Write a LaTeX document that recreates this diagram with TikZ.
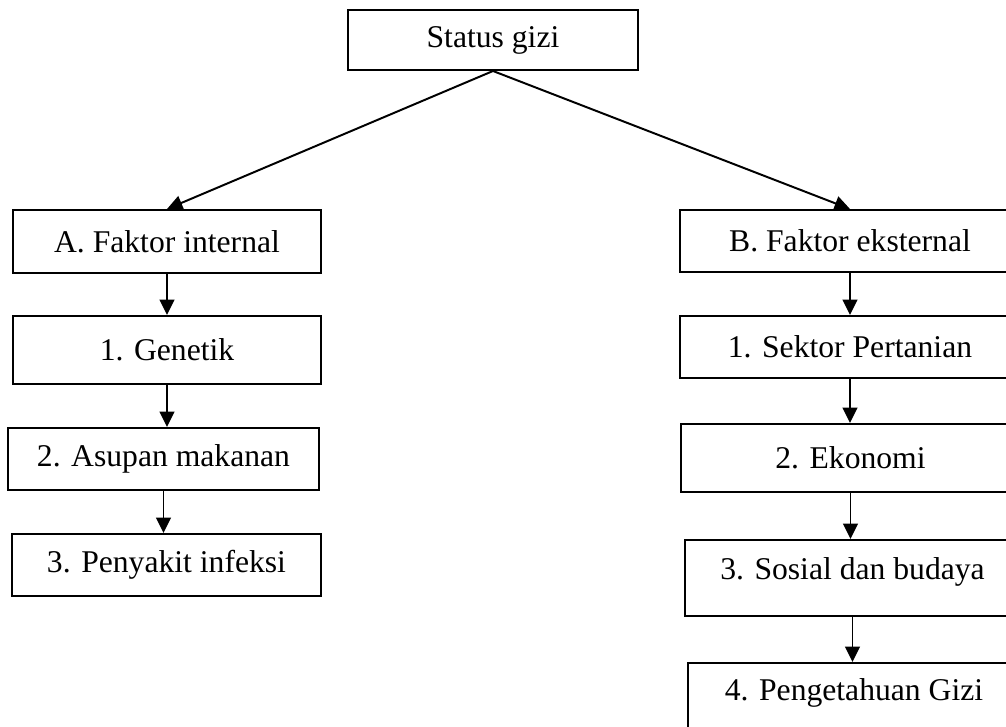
\documentclass[tikz,border=0pt]{standalone}
\usepackage{fontspec}
\setmainfont{Liberation Serif}
\usetikzlibrary{arrows.meta}

\tikzset{
  box/.style={draw, line width=1.4pt, inner sep=0pt, font=\fontsize{22.5}{27}\selectfont},
  arr/.style={-{Triangle[length=11pt,width=10.5pt]}, line width=1.4pt}
}

\begin{document}
\begin{tikzpicture}[x=0.025cm, y=-0.025cm]
        \clip (0,0) rectangle (1006,726);
        \node[box, minimum width=7.25cm, minimum height=1.5cm] (status) at (493,40) {Status gizi};
        \node[box, minimum width=7.7cm, minimum height=1.575cm] (internal) at (167,241.5) {A. Faktor internal};
        \node[box, minimum width=8.5cm, minimum height=1.55cm] (eksternal) at (850,241) {B. Faktor eksternal};
        \node[box, minimum width=7.7cm, minimum height=1.7cm] (genetik) at (167,350) {1. Genetik};
        \node[box, minimum width=7.775cm, minimum height=1.55cm] (asupan) at (163.5,459) {2. Asupan makanan};
        \node[box, minimum width=7.725cm, minimum height=1.55cm] (penyakit) at (166.5,565) {3. Penyakit infeksi};
        \node[box, minimum width=8.5cm, minimum height=1.55cm] (pertanian) at (850,347) {1. Sektor Pertanian};
        \node[box, minimum width=8.475cm, minimum height=1.7cm] (ekonomi) at (850.5,458) {2. Ekonomi};
        \node[box, minimum width=8.375cm, minimum height=1.9cm, text depth=13pt] (sosial) at (852.5,578) {3. Sosial dan budaya};
        \node[box, minimum width=8.3cm, minimum height=1.75cm, text depth=12pt] (pengetahuan) at (854,698) {4. Pengetahuan Gizi};
        \draw[arr] (status.south) -- (internal.north);
        \draw[arr] (status.south) -- (eksternal.north);
        \draw[arr] (internal.south) -- (internal.south |- genetik.north);
        \draw[arr] (genetik.south) -- (genetik.south |- asupan.north);
        \draw[arr] (asupan.south) -- (asupan.south |- penyakit.north);
        \draw[arr] (eksternal.south) -- (eksternal.south |- pertanian.north);
        \draw[arr] (pertanian.south) -- (pertanian.south |- ekonomi.north);
        \draw[arr] (ekonomi.south) -- (ekonomi.south |- sosial.north);
        \draw[arr] (sosial.south) -- (sosial.south |- pengetahuan.north);
    \end{tikzpicture}
\end{document}
